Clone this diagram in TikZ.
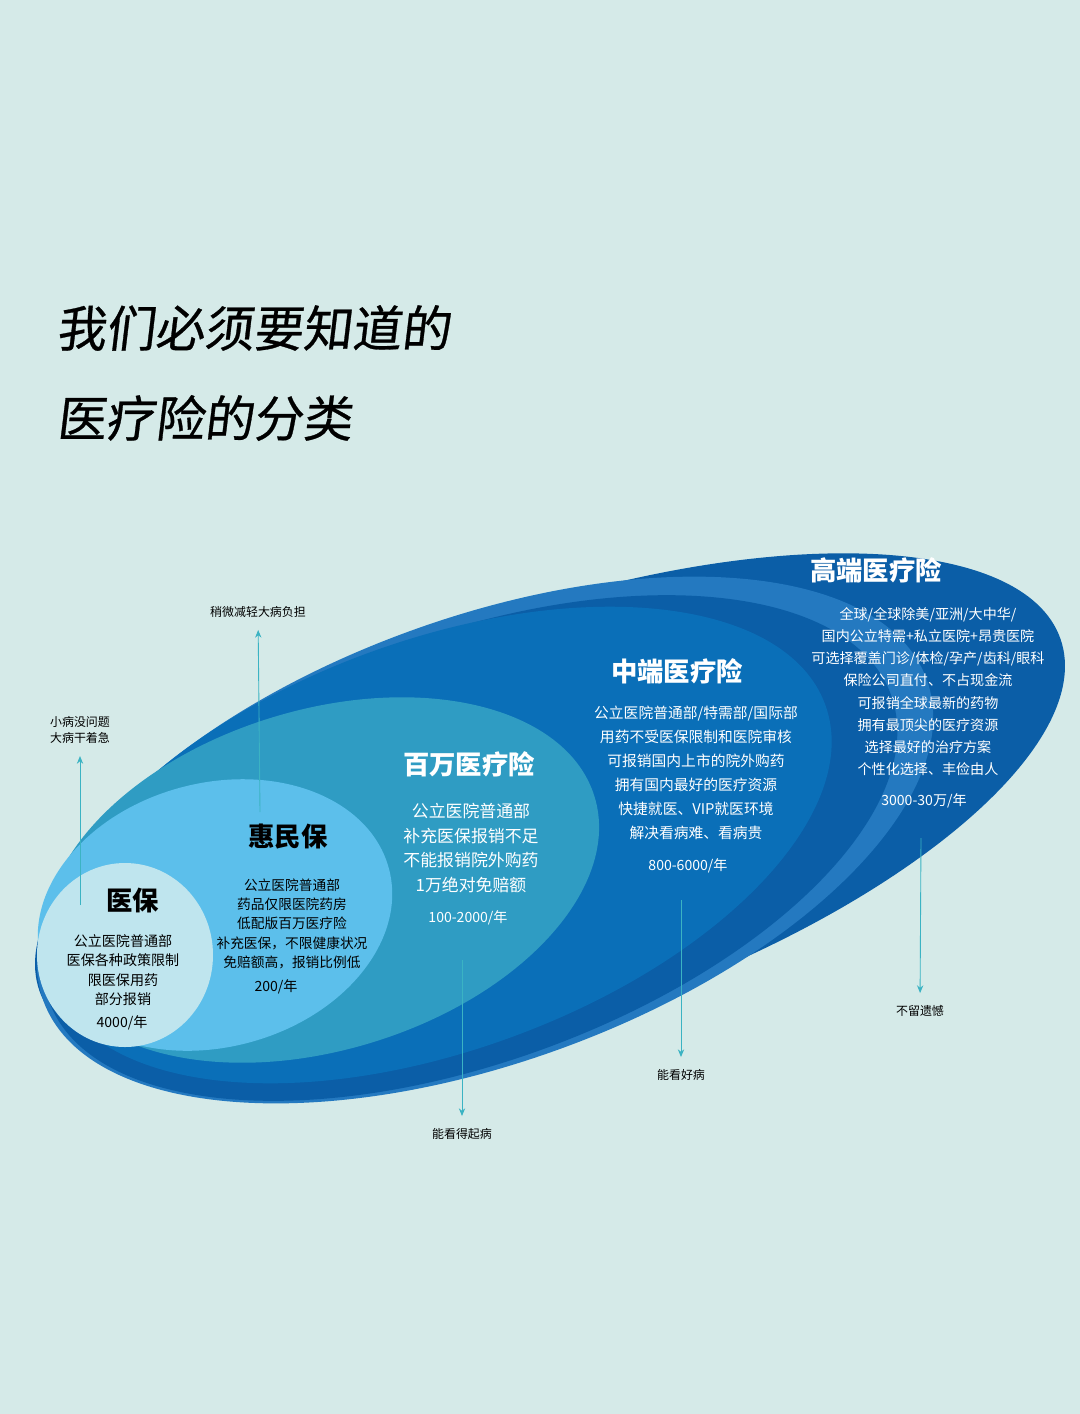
\documentclass[tikz,border=0pt]{standalone}
\usepackage{fontspec}
\setmainfont{Noto Sans CJK SC}
\newfontfamily\titlefont[FakeSlant=0.12,FakeBold=0.6]{Noto Sans CJK SC}
\usetikzlibrary{arrows.meta}
\definecolor{bgmint}{HTML}{D5EAE8}
\definecolor{outerblue}{HTML}{0B5EA7}
\definecolor{bandblue}{HTML}{2479C0}
\definecolor{midblue}{HTML}{0A6FB8}
\definecolor{tealblue}{HTML}{2F9CC3}
\definecolor{skyblue}{HTML}{5CBFEB}
\definecolor{paleblue}{HTML}{BFE5EE}
\definecolor{arrowteal}{HTML}{3BB3C3}
\tikzset{
  head/.style={font=\fontsize{7.5}{8}\selectfont\bfseries, text=white},
  body/.style={font=\fontsize{4}{6.3}\selectfont, text=white, align=center},
  price/.style={font=\fontsize{4}{5}\selectfont\itshape, text=white},
  note/.style={font=\fontsize{3.4}{4.6}\selectfont, text=black, align=center},
  pointer/.style={arrowteal, line width=0.25pt, -{Stealth[length=2.2pt,width=1.8pt]}}
}
\begin{document}
\begin{tikzpicture}[x=0.01cm, y=-0.01cm]
    % page
    \fill[bgmint] (0,0) rectangle (1080,1414);
    \useasboundingbox (0,0) rectangle (1080,1414);
    % title
    \node[anchor=west, font=\fontsize{14}{16}\titlefont] (title1) at (44,328) {我们必须要知道的};
    \node[anchor=west, font=\fontsize{14}{16}\titlefont] (title2) at (44,418) {医疗险的分类};
    % the nested zones, outside in
    \fill[outerblue, rotate around={19:(550,815)}] (550,815) ellipse (540 and 205);
    \fill[bandblue, rotate around={20:(485,840)}] (485,840) ellipse (470 and 222);
    \fill[outerblue, rotate around={20:(470,848)}] (470,848) ellipse (448 and 214);
    \fill[midblue, rotate around={20:(440,845)}] (440,845) ellipse (410 and 205);
    \fill[tealblue, rotate around={17:(322,880)}] (322,880) ellipse (285 and 170);
    \fill[skyblue, rotate around={15:(215,915)}] (215,915) ellipse (180 and 132);
    \fill[paleblue] (125,955) ellipse (88 and 92);
    % high end
    \node[head] (gaoduan) at (876,570) {高端医疗险};
    \node[body, anchor=north] (gaoduantext) at (928,595) {全球/全球除美/亚洲/大中华/\\国内公立特需+私立医院+昂贵医院\\可选择覆盖门诊/体检/孕产/齿科/眼科\\保险公司直付、不占现金流\\可报销全球最新的药物\\拥有最顶尖的医疗资源\\选择最好的治疗方案\\个性化选择、丰俭由人};
    \node[price] (gaoduanprice) at (924,801) {3000-30万/年};
    % middle
    \node[head] (zhongduan) at (677,671) {中端医疗险};
    \node[body, anchor=north, font=\fontsize{4.2}{6.8}\selectfont] (zhongduantext) at (696,694) {公立医院普通部/特需部/国际部\\用药不受医保限制和医院审核\\可报销国内上市的院外购药\\拥有国内最好的医疗资源\\快捷就医、VIP就医环境\\解决看病难、看病贵};
    \node[price] (zhongduanprice) at (688,866) {800-6000/年};
    % million
    \node[head] (baiwan) at (469,764) {百万医疗险};
    \node[body, anchor=north, font=\fontsize{4.8}{7}\selectfont] (baiwantext) at (471,791) {公立医院普通部\\补充医保报销不足\\不能报销院外购药\\1万绝对免赔额};
    \node[price] (baiwanprice) at (468,918) {100-2000/年};
    % huiminbao
    \node[head, text=black] (huiminbao) at (288,837) {惠民保};
    \node[body, anchor=north, text=black, font=\fontsize{3.9}{5.5}\selectfont] (huiminbaotext) at (292,866) {公立医院普通部\\药品仅限医院药房\\低配版百万医疗险\\补充医保，不限健康状况\\免赔额高，报销比例低};
    \node[price, text=black] (huiminbaoprice) at (276,987) {200/年};
    % yibao
    \node[head, text=black] (yibao) at (133,900) {医保};
    \node[body, anchor=north, text=black, font=\fontsize{4}{5.5}\selectfont] (yibaotext) at (123,922) {公立医院普通部\\医保各种政策限制\\限医保用药\\部分报销};
    \node[price, text=black] (yibaoprice) at (122,1023) {4000/年};
    % notes and pointers
    \node[note] (yibaonote) at (80,730) {小病没问题\\大病干着急};
    \node[note] (huiminbaonote) at (258,612) {稍微减轻大病负担};
    \node[note] (baiwannote) at (462,1134) {能看得起病};
    \node[note] (zhongduannote) at (681,1075) {能看好病};
    \node[note] (gaoduannote) at (920,1011) {不留遗憾};
    \coordinate (yibaofoot) at (80,905);
    \coordinate (huiminbaofoot) at (260,812);
    \coordinate (baiwanfoot) at (462,960);
    \coordinate (zhongduanfoot) at (681,900);
    \coordinate (gaoduanfoot) at (921,838);
    \draw[pointer] (yibaofoot) -- (yibaonote);
    \draw[pointer] (huiminbaofoot) -- (huiminbaonote);
    \draw[pointer] (baiwanfoot) -- (baiwannote);
    \draw[pointer] (zhongduanfoot) -- (zhongduannote);
    \draw[pointer] (gaoduanfoot) -- (gaoduannote);
\end{tikzpicture}
\end{document}
